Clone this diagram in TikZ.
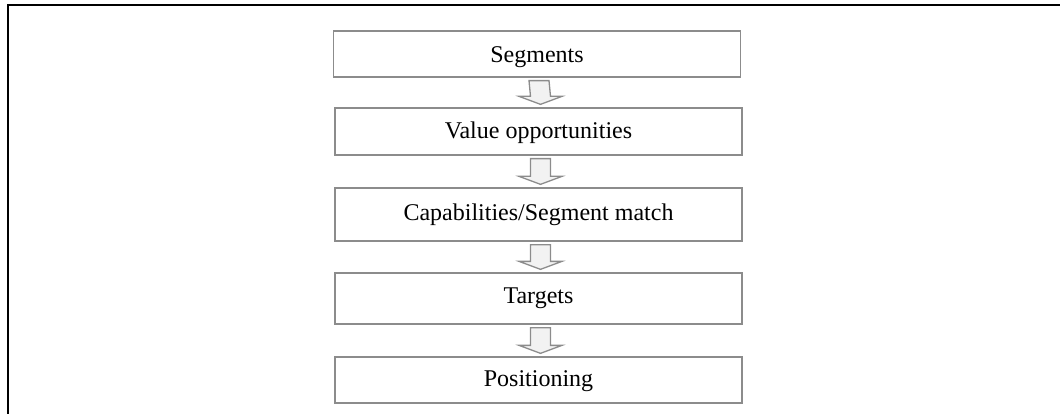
\documentclass[tikz,border=0pt]{standalone}
\usepackage{fontspec}
\setmainfont{Liberation Serif}
\usetikzlibrary{calc}
\definecolor{boxline}{HTML}{8C8C8C}
\definecolor{arrfill}{HTML}{F2F2F2}
\newcommand{\blkarrow}[2]{%
  \draw[blockarr]
    ($(#1.south)+(-8,-3)$) -- ($(#1.south)+(12,-3)$) --
    ($(#2.north)+(12,11)$) -- ($(#2.north)+(23.5,11)$) --
    ($(#2.north)+(2,3)$) -- ($(#2.north)+(-19.5,11)$) --
    ($(#2.north)+(-8,11)$) -- cycle;}
\begin{document}
\begin{tikzpicture}[x=1pt,y=1pt,
  stepbox/.style={draw=boxline, line width=1.3pt, fill=white, minimum width=407pt,
    inner sep=0pt, font=\fontsize{24}{26}\selectfont},
  blockarr/.style={draw=boxline, line width=1.3pt, fill=arrfill, line join=miter},
  frame/.style={draw=black, line width=2pt}]
\useasboundingbox (0,0) rectangle (1060,-414);
\draw[frame] (8,-414) -- (8,-5) -- (1060,-5);
\node[stepbox, minimum height=46pt, text height=23pt, text depth=5pt] (seg) at (537,-54) {Segments};
\node[stepbox, minimum height=47pt, text height=20pt, text depth=5pt] (val) at (538.5,-131.5) {Value opportunities};
\node[stepbox, minimum height=53pt] (cap) at (538.5,-214.5) {Capabilities/Segment match};
\node[stepbox, minimum height=51pt] (tar) at (538.5,-298.5) {Targets};
\node[stepbox, minimum height=46pt, text height=18pt, text depth=5pt] (pos) at (538.5,-380) {Positioning};
\blkarrow{seg}{val}
\blkarrow{val}{cap}
\blkarrow{cap}{tar}
\blkarrow{tar}{pos}
\end{tikzpicture}
\end{document}
